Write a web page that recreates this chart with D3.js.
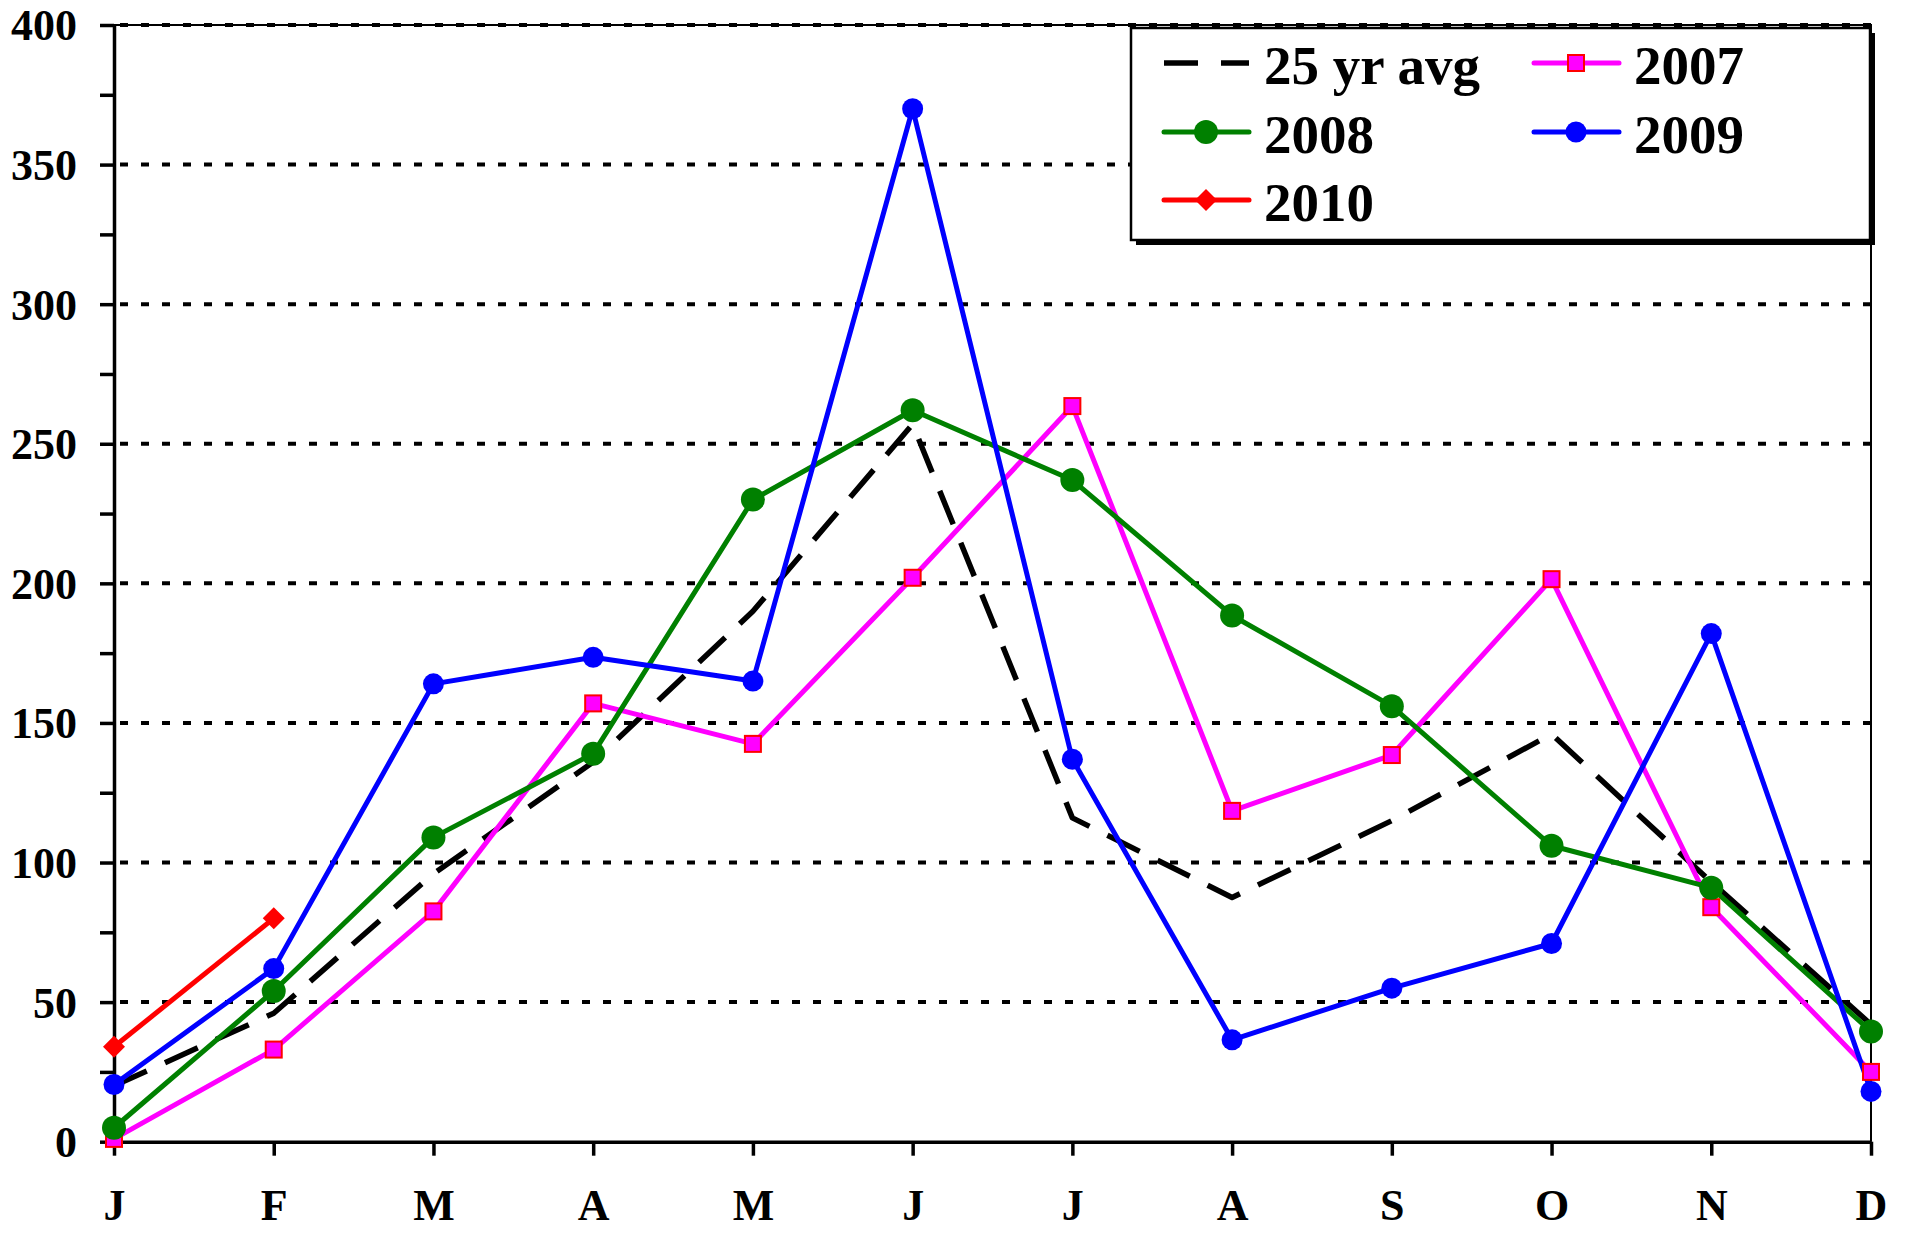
<!DOCTYPE html>
<html>
<head>
<meta charset="utf-8">
<script src="https://cdn.jsdelivr.net/npm/d3@7"></script>
<style>
  body { margin: 0; background: #fff; }
  svg text { font-family: "Liberation Serif", "Times New Roman", serif; font-weight: bold; fill: #000; }
</style>
</head>
<body>
<div id="chart"></div>
<script>
// data
var months = ["J", "F", "M", "A", "M", "J", "J", "A", "S", "O", "N", "D"];
var yTicks = [0, 50, 100, 150, 200, 250, 300, 350, 400];
var yMinor = [25, 75, 125, 175, 225, 275, 325, 375];
var avg25 = [20, 46, 96, 136, 190, 257, 116, 87.5, 115, 146, 93, 42];
var y2007 = [1, 33, 82.5, 157, 142.5, 202, 263.5, 118.5, 138.5, 201.5, 84, 25];
var y2008 = [5, 54, 109, 139, 230, 262, 237, 188.5, 156, 106, 91, 39.5];
var y2009 = [20.5, 62, 164, 173.5, 165, 370, 137, 36.5, 55, 71, 182, 18];
var y2010 = [34, 80];

var series = [
  {name: "25 yr avg", values: avg25, color: "#000", marker: "none", dash: "36,20", w: 5.5},
  {name: "2007", values: y2007, color: "#ff00ff", marker: "square", w: 5},
  {name: "2008", values: y2008, color: "#008000", marker: "circle", r: 12, w: 5},
  {name: "2009", values: y2009, color: "#0000ff", marker: "circle", r: 10.5, w: 5},
  {name: "2010", values: y2010, color: "#ff0000", marker: "diamond", w: 5}
];

var width = 1906, height = 1233;
var plotL = 114, plotR = 1871, plotT = 25, plotB = 1141.7;

var svg = d3.select("#chart").append("svg")
  .attr("width", width)
  .attr("height", height);

var x = d3.scalePoint()
  .domain(d3.range(months.length))
  .range([plotL, plotR]);

var y = d3.scaleLinear()
  .domain([0, 400])
  .range([plotB, plotT]);

//gridlines
svg.append("g")
  .selectAll("line")
  .data(yTicks.filter(function(d) { return d > 0; }))
  .join("line")
  .attr("x1", plotL + 6).attr("x2", plotR)
  .attr("y1", function(d) { return y(d); })
  .attr("y2", function(d) { return y(d); })
  .attr("stroke", "#000")
  .attr("stroke-width", 4)
  .attr("stroke-dasharray", "8,13");

//plot border, top and right
svg.append("path")
  .attr("d", "M" + plotL + "," + plotT + "H" + plotR + "V" + plotB)
  .attr("fill", "none")
  .attr("stroke", "#000")
  .attr("stroke-width", 2);

//y axis
var yAxis = d3.axisLeft(y)
  .tickValues(yTicks)
  .tickSize(14)
  .tickSizeOuter(0)
  .tickPadding(23);

var gy = svg.append("g")
  .attr("transform", "translate(" + plotL + ",0)")
  .call(yAxis);
gy.selectAll("text").style("font-size", "44px").attr("dy", "0.34em");

svg.append("g")
  .attr("transform", "translate(" + plotL + ",0)")
  .call(d3.axisLeft(y).tickValues(yMinor).tickSize(14).tickFormat(""))
  .select(".domain").remove();

//x axis
var xAxis = d3.axisBottom(x)
  .tickFormat(function(i) { return months[i]; })
  .tickSize(14)
  .tickSizeOuter(0)
  .tickPadding(33);

var gx = svg.append("g")
  .attr("transform", "translate(0," + plotB + ")")
  .call(xAxis);
gx.selectAll("text").style("font-size", "44px");

svg.selectAll(".domain, .tick line")
  .attr("stroke", "#000")
  .attr("stroke-width", 3.5);

//lines
var line = d3.line()
  .x(function(d, i) { return x(i); })
  .y(function(d) { return y(d); });

svg.append("g")
  .selectAll("path")
  .data(series)
  .join("path")
  .attr("d", function(s) { return line(s.values); })
  .attr("fill", "none")
  .attr("stroke", function(s) { return s.color; })
  .attr("stroke-width", function(s) { return s.w; })
  .attr("stroke-dasharray", function(s) { return s.dash || null; })
  .attr("stroke-linejoin", "round");

//markers
function drawMarker(g, s, cx, cy) {
  if (s.marker === "circle") {
    g.append("circle")
      .attr("cx", cx).attr("cy", cy)
      .attr("r", s.r)
      .attr("fill", s.color);
  } else if (s.marker === "square") {
    g.append("rect")
      .attr("x", cx - 8).attr("y", cy - 8)
      .attr("width", 16).attr("height", 16)
      .attr("fill", "#ff00ff")
      .attr("stroke", "#ff0000")
      .attr("stroke-width", 2);
  } else if (s.marker === "diamond") {
    g.append("path")
      .attr("d", "M" + cx + "," + (cy - 11) + "L" + (cx + 11) + "," + cy +
        "L" + cx + "," + (cy + 11) + "L" + (cx - 11) + "," + cy + "Z")
      .attr("fill", s.color);
  }
}

var gm = svg.append("g");
series.forEach(function(s) {
  s.values.forEach(function(v, i) {
    drawMarker(gm, s, x(i), y(v));
  });
});

//legend
var lg = svg.append("g");
lg.append("rect")
  .attr("x", 1136).attr("y", 33).attr("width", 739).attr("height", 212)
  .attr("fill", "#000");
lg.append("rect")
  .attr("x", 1131).attr("y", 28).attr("width", 739).attr("height", 212)
  .attr("fill", "#fff")
  .attr("stroke", "#000")
  .attr("stroke-width", 2.5);

var legendPos = [
  {col: 0, row: 0}, {col: 1, row: 0},
  {col: 0, row: 1}, {col: 1, row: 1},
  {col: 0, row: 2}
];
var colX = [1164, 1534];
var rowY = [63, 132, 200];

series.forEach(function(s, k) {
  var p = legendPos[k];
  var lx = colX[p.col], ly = rowY[p.row];
  lg.append("line")
    .attr("x1", lx).attr("x2", lx + 85)
    .attr("y1", ly).attr("y2", ly)
    .attr("stroke", s.color)
    .attr("stroke-width", s.dash ? 5.5 : 5)
    .attr("stroke-linecap", s.dash ? "butt" : "round")
    .attr("stroke-dasharray", s.dash ? "34,23" : null);
  drawMarker(lg, s, lx + 42, ly);
  lg.append("text")
    .attr("x", lx + 100)
    .attr("y", ly + 21)
    .style("font-size", "55px")
    .text(s.name);
});
</script>
</body>
</html>
